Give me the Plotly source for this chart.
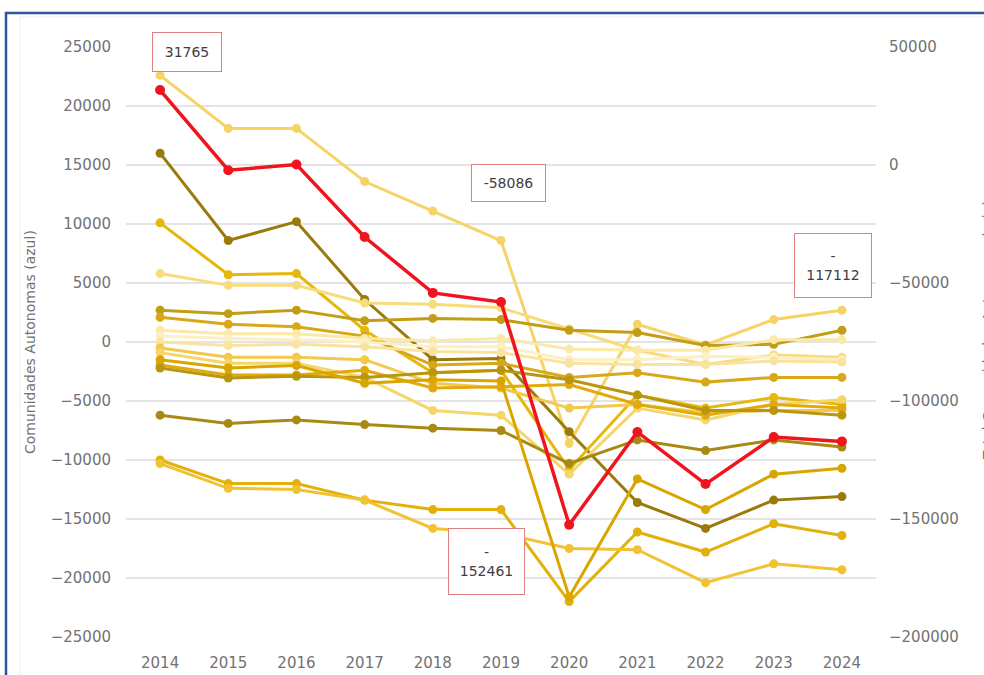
import plotly.graph_objects as go

years = ["2014", "2015", "2016", "2017", "2018", "2019", "2020", "2021", "2022", "2023", "2024"]

# Regional series (left axis)
ccaa_a = [22600, 18100, 18100, 13600, 11100, 8600, -8600, 1500, -250, 1900, 2700]
ccaa_b = [16000, 8600, 10200, 3600, -1500, -1400, -7600, -13600, -15800, -13400, -13100]
ccaa_c = [10100, 5700, 5800, 1000, -2600, -2400, -10800, -4500, -5600, -4700, -5300]
ccaa_d = [5800, 4800, 4800, 3300, 3200, 2900, 1100, -700, -1900, -1100, -1300]
ccaa_e = [2700, 2400, 2700, 1800, 2000, 1900, 1000, 800, -300, -200, 1000]
ccaa_f = [2100, 1500, 1300, 500, -1950, -1800, -3000, -2600, -3400, -3000, -3000]
ccaa_g = [1000, 700, 700, 300, 100, 300, -600, -700, -700, 200, 200]
ccaa_h = [500, 300, 200, 0, -400, -400, -1500, -1500, -1200, -1300, -1500]
ccaa_i = [0, -300, -200, -400, -800, -900, -1800, -1900, -1900, -1600, -1700]
ccaa_j = [-500, -1300, -1300, -1500, -3500, -3900, -5600, -5300, -6000, -5800, -5800]
ccaa_k = [-900, -1800, -1800, -3000, -5800, -6200, -11200, -5600, -6600, -5300, -4900]
ccaa_l = [-1950, -2800, -2800, -2400, -3900, -3800, -3600, -5300, -6200, -5300, -5600]
ccaa_m = [-2200, -3050, -2900, -3000, -2600, -2400, -3200, -4500, -5800, -5800, -6200]
ccaa_n = [-6200, -6900, -6600, -7000, -7300, -7500, -10300, -8300, -9200, -8300, -8900]
ccaa_o = [-10000, -12000, -12000, -13400, -14200, -14200, -22000, -16100, -17800, -15400, -16400]
ccaa_p = [-10300, -12400, -12500, -13400, -15800, -16200, -17500, -17600, -20400, -18800, -19300]
ccaa_q = [-1500, -2200, -2000, -3500, -3200, -3300, -21600, -11600, -14200, -11200, -10700]

# Total series (right axis)
total = [31765, -2200, 200, -30500, -54200, -58086, -152461, -113100, -135200, -115300, -117112]

series = [
    (ccaa_a, "#F6D365"), (ccaa_b, "#9B7A0C"), (ccaa_c, "#E5B80B"), (ccaa_d, "#F8DC7A"),
    (ccaa_e, "#C29D16"), (ccaa_f, "#D9A81A"), (ccaa_g, "#FBE9A8"), (ccaa_h, "#FCEFC4"),
    (ccaa_i, "#FAE3A0"), (ccaa_j, "#F2C94C"), (ccaa_k, "#F5D66A"), (ccaa_l, "#E0AA0F"),
    (ccaa_m, "#B8960F"), (ccaa_n, "#A88A12"), (ccaa_o, "#E3B00C"), (ccaa_p, "#F1C232"),
    (ccaa_q, "#DBA500"),
]

fig = go.Figure()
for vals, col in series:
    fig.add_trace(go.Scatter(x=years, y=vals, mode="lines+markers",
                             line=dict(color=col, width=3),
                             marker=dict(color=col, size=9), showlegend=False))

fig.add_trace(go.Scatter(x=years, y=total, mode="lines+markers", yaxis="y2",
                         line=dict(color="#F0141E", width=3.5),
                         marker=dict(color="#F0141E", size=10), showlegend=False))

FONT = "DejaVu Sans"
TXT = "#727272"

fig.update_layout(
    width=984, height=675,
    margin=dict(l=126, r=108, t=47, b=38),
    paper_bgcolor="white", plot_bgcolor="white",
    font=dict(family=FONT, size=15, color=TXT),
    xaxis=dict(type="category", range=[-0.5, 10.5], showgrid=False, zeroline=False,
               showline=False, ticks="", tickfont=dict(size=15, color=TXT),
               ticklabelstandoff=15, automargin=False),
    yaxis=dict(range=[-25000, 25000], dtick=5000, tick0=0, showgrid=True,
               gridcolor="#E4E4E4", gridwidth=1.5, zeroline=False, showline=False,
               tickfont=dict(size=15, color=TXT), ticklabelstandoff=14,
               tickformat="d", automargin=False),
    yaxis2=dict(range=[-200000, 50000], dtick=50000, tick0=0, overlaying="y",
                side="right", showgrid=False, zeroline=False, showline=False,
                tickfont=dict(size=15, color=TXT), ticklabelstandoff=12,
                tickformat="d", automargin=False),
)

W = 750.0
H = 590.0

def px(xp):
    return (xp - 126) / W

def py(yp):
    return (637 - yp) / H

# Frame
fig.add_shape(type="line", xref="paper", yref="paper", x0=px(5), x1=px(990), y0=py(13), y1=py(13),
              line=dict(color="#2F5597", width=2.5))
fig.add_shape(type="line", xref="paper", yref="paper", x0=px(6), x1=px(6), y0=py(12), y1=py(680),
              line=dict(color="#2F5597", width=2.5))
fig.add_shape(type="line", xref="paper", yref="paper", x0=px(20), x1=px(990), y0=py(17), y1=py(17),
              line=dict(color="#EFEFEF", width=1))
fig.add_shape(type="line", xref="paper", yref="paper", x0=px(20), x1=px(20), y0=py(17), y1=py(680),
              line=dict(color="#EFEFEF", width=1))

# Axis titles
fig.add_annotation(xref="paper", yref="paper", x=px(30), y=py(342), text="Comunidades Autonomas (azul)",
                   textangle=-90, showarrow=False, font=dict(size=14, color=TXT),
                   xanchor="center", yanchor="middle")
fig.add_annotation(xref="paper", yref="paper", x=px(988), y=py(330), text="Total Comunidades Autonomas (rojo)",
                   textangle=-90, showarrow=False, font=dict(size=14, color=TXT),
                   xanchor="center", yanchor="middle")

# Data labels for the total series (category axis positions are indices)
labels = [
    (0, "31765", 27, 38, 62, 32),
    (5, "-58086", 7, 119, 67, 30),
    (6, "-<br>152461", -83, -37, 69, 59),
    (10, "-<br>117112", -9, 176, 70, 57),
]
for idx, txt, dx, dy, w, h in labels:
    fig.add_annotation(x=idx, y=total[idx], xref="x", yref="y2", text=txt,
                       showarrow=False, xshift=dx, yshift=dy, width=w, height=h,
                       bordercolor="#E08080", borderwidth=1, borderpad=3,
                       bgcolor="white", font=dict(size=14, color="#404040"),
                       align="center", valign="middle")

fig.write_html("out.html", config={"displayModeBar": False},
               post_script="document.body.style.margin='0';document.body.style.overflow='hidden';")
